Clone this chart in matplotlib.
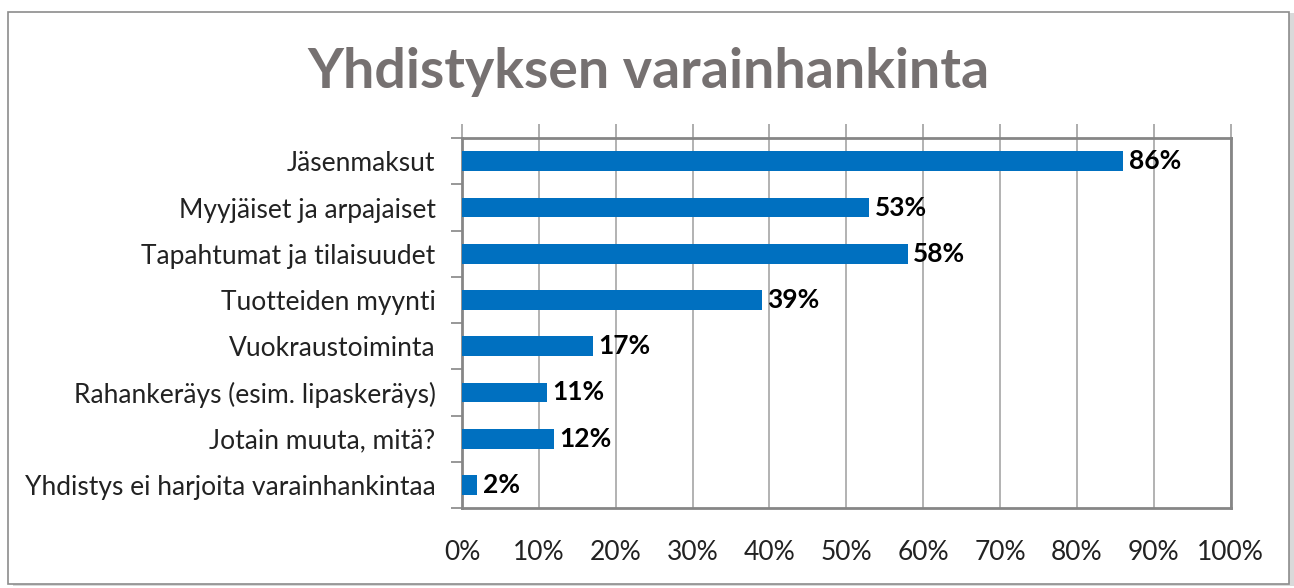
import matplotlib
matplotlib.use("Agg")
import matplotlib.pyplot as plt
from matplotlib.patches import Rectangle
from matplotlib.ticker import FuncFormatter, FixedLocator

# Survey data
categories = [
    "Jäsenmaksut",
    "Myyjäiset ja arpajaiset",
    "Tapahtumat ja tilaisuudet",
    "Tuotteiden myynti",
    "Vuokraustoiminta",
    "Rahankeräys (esim. lipaskeräys)",
    "Jotain muuta, mitä?",
    "Yhdistys ei harjoita varainhankintaa",
]
values = [86, 53, 58, 39, 17, 11, 12, 2]
x_ticks = list(range(0, 101, 10))

plt.rcParams['font.family'] = ['Lato', 'DejaVu Sans']

fig = plt.figure(figsize=(12.94, 5.88), dpi=100)

# outer chart frame with a light shadow
fig.patches.append(Rectangle((0.010, 0.003), 0.990, 0.975, transform=fig.transFigure,
                             facecolor='#d9d9d9', edgecolor='none', zorder=0))
fig.patches.append(Rectangle((0.006, 0.006), 0.990, 0.973, transform=fig.transFigure,
                             facecolor='white', edgecolor='#8c8c8c', linewidth=1.2, zorder=1))

ax = fig.add_axes([0.357, 0.136, 0.594, 0.629])
ax.set_zorder(2)

ypos = list(range(len(categories)))
ax.barh(ypos, values, height=0.43, color='#0070c0', zorder=3)
for y, v in zip(ypos, values):
    ax.annotate(f"{v}%", (v, y), xytext=(4, 0), textcoords='offset points',
                va='center', ha='left', fontsize=19, fontweight='bold', color='black')

ax.set_xlim(0, 100)
ax.set_ylim(len(categories) - 0.5, -0.5)
ax.set_yticks(ypos)
ax.set_yticklabels(categories, fontsize=19, color='#222222')
ax.yaxis.set_minor_locator(FixedLocator([i - 0.5 for i in range(len(categories) + 1)]))
ax.tick_params(axis='y', which='major', length=0, pad=19)
ax.tick_params(axis='y', which='minor', length=8, width=1.2, color='#868686', direction='out')

ax.set_xticks(x_ticks)
ax.xaxis.set_major_formatter(FuncFormatter(lambda v, p: f"{int(v)}%"))
ax.tick_params(axis='x', top=True, bottom=False, labeltop=False, labelbottom=True,
               direction='out', length=10, width=1.2, color='#a0a0a0',
               labelsize=19, labelcolor='#222222', pad=13)
ax.grid(axis='x', color='#a6a6a6', linewidth=1.2, zorder=1)

for s in ax.spines.values():
    s.set_color('#868686')
    s.set_linewidth(2)

fig.text(0.501, 0.878, "Yhdistyksen varainhankinta", ha='center', va='center',
         fontsize=40, fontweight='bold', color='#767171')

fig.savefig("out.png", dpi=100)
